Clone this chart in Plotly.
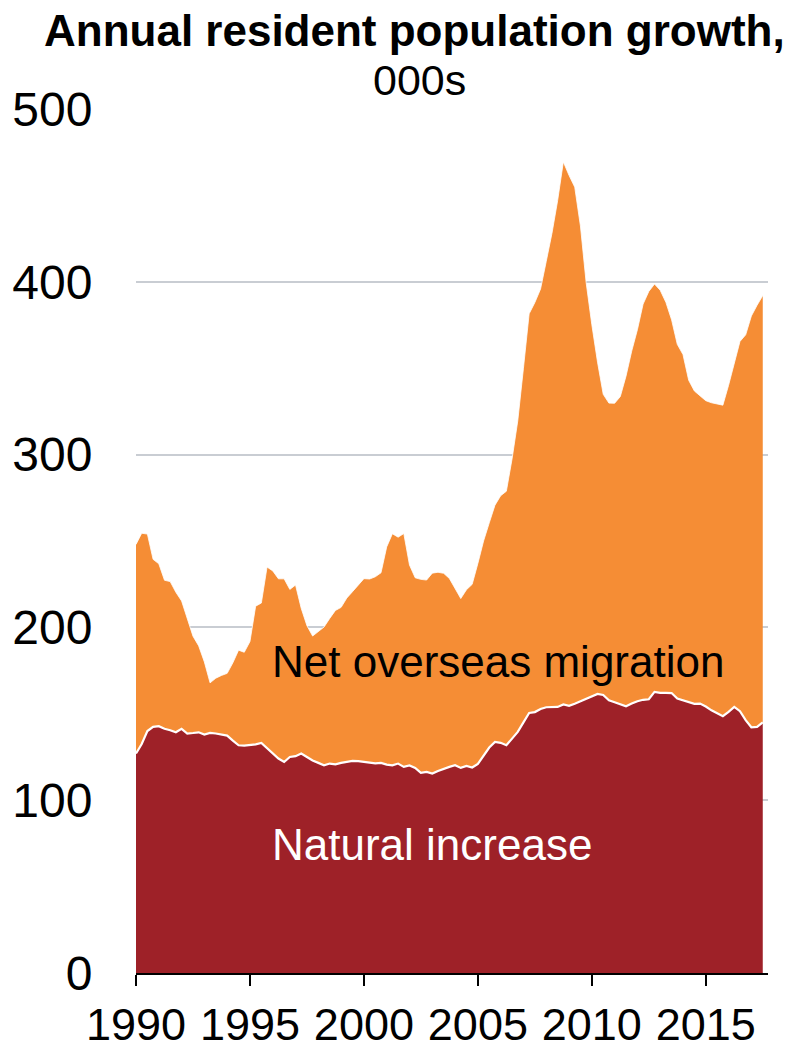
import plotly.graph_objects as go

# Quarterly observations, year-ended growth in thousands (1990 Q1 .. 2017 Q3)
start_year = 1990
n_quarters = 111
years = [start_year + q / 4 for q in range(n_quarters)]

natural_increase = [
    127, 132.5, 140, 142.4, 142.8, 141.3, 140.5, 139.3,
    141.3, 138.6, 138.9, 139.3, 138, 138.9, 138.6, 138.2,
    137.4, 134.5, 131.8, 131.6, 131.8, 132.3, 133.1, 129.9,
    126.7, 124.1, 122.1, 125, 125.5, 127, 125, 123,
    121.6, 120.2, 121.2, 120.8, 121.6, 122, 122.7, 122.6,
    122.2, 122, 121.3, 121.6, 120.6, 120.2, 121.2, 119.3,
    120.1, 118.7, 115.8, 116.4, 115.4, 116.9, 118.3, 119.3,
    120.2, 118.7, 119.8, 118.9, 121, 126, 130.5, 133.7,
    133.2, 131.8, 135.5, 139.5, 145, 150.5, 151, 152.8,
    153.8, 154, 154, 155.4, 154.6, 155.8, 157.3, 158.6,
    160.2, 161.5, 160.9, 157.8, 156.7, 155.6, 154.4, 155.9,
    157.3, 158.1, 158.4, 162.7, 162.1, 162.1, 162, 158.8,
    157.9, 157, 155.8, 155.9, 154.2, 152, 150.3, 148.6,
    151.1, 154, 151.5, 146.3, 142.2, 142.4, 145,
]

net_overseas_migration = [
    121, 122, 114, 97, 94, 86, 86, 81,
    74, 66, 56, 50, 42, 29, 32, 34,
    36, 45, 55, 54, 60, 80, 81, 105,
    106, 104, 106, 97, 99, 84, 76, 72,
    76, 80, 84, 89, 90, 95, 98, 102,
    106, 106, 108, 110, 126, 134, 131, 135,
    116, 110, 112, 111, 116, 115, 113, 109,
    102, 98, 102, 106, 116, 124, 130, 137,
    143, 147, 162, 180, 205, 231, 237, 243,
    258, 274, 293, 314, 307, 299, 275, 241,
    215, 192, 174, 172, 173, 178, 191, 204,
    215, 229, 236, 236, 233, 226, 216, 205,
    200, 186, 181, 178, 177, 178, 179, 180,
    189, 199, 214, 223, 238, 244, 247,
]

tick_years = [1990, 1995, 2000, 2005, 2010, 2015]
y_ticks = [0, 100, 200, 300, 400, 500]

RED = "#9E2128"
ORANGE = "#F58D35"
FONT = "Liberation Sans, Arial, sans-serif"

fig = go.Figure()
fig.add_trace(go.Scatter(
    x=years, y=natural_increase, name="Natural increase",
    stackgroup="growth", mode="lines",
    line=dict(color="white", width=2.2),
    fillcolor=RED,
))
fig.add_trace(go.Scatter(
    x=years, y=net_overseas_migration, name="Net overseas migration",
    stackgroup="growth", mode="lines",
    line=dict(color="white", width=0.8),
    fillcolor=ORANGE,
))

fig.add_annotation(
    text="<b>Annual resident population growth,</b>",
    xref="paper", yref="paper", x=0.441, y=1.091,
    xanchor="center", yanchor="middle", showarrow=False,
    font=dict(family=FONT, size=44, color="black"),
)
fig.add_annotation(
    text="000s",
    xref="paper", yref="paper", x=0.448, y=1.034,
    xanchor="center", yanchor="middle", showarrow=False,
    font=dict(family=FONT, size=43, color="black"),
)
fig.add_annotation(
    text="Net overseas migration",
    x=2005.9, y=180, xanchor="center", yanchor="middle", showarrow=False,
    font=dict(family=FONT, size=44, color="black"),
)
fig.add_annotation(
    text="Natural increase",
    x=2003.0, y=74.5, xanchor="center", yanchor="middle", showarrow=False,
    font=dict(family=FONT, size=44, color="white"),
)

fig.update_xaxes(
    range=[1990, 2017.73], automargin=False,
    tickvals=tick_years, ticktext=[str(t) for t in tick_years],
    showgrid=False, zeroline=False,
    showline=True, linecolor="black", linewidth=1.5,
    ticks="outside", ticklen=11, tickwidth=1.5, tickcolor="black",
    tickfont=dict(family=FONT, size=45, color="black"),
)
fig.update_yaxes(
    range=[0, 500], automargin=False,
    tickvals=y_ticks,
    showgrid=True, gridcolor="#C9CDD3", gridwidth=2,
    zeroline=False, showline=False,
    ticks="outside", ticklen=33, tickcolor="rgba(0,0,0,0)",
    tickfont=dict(family=FONT, size=48, color="black"),
)

fig.update_layout(
    width=796, height=1050,
    margin=dict(l=136, r=28, t=109, b=77),
    paper_bgcolor="white", plot_bgcolor="white",
    showlegend=False,
)

fig.write_html("out.html")
